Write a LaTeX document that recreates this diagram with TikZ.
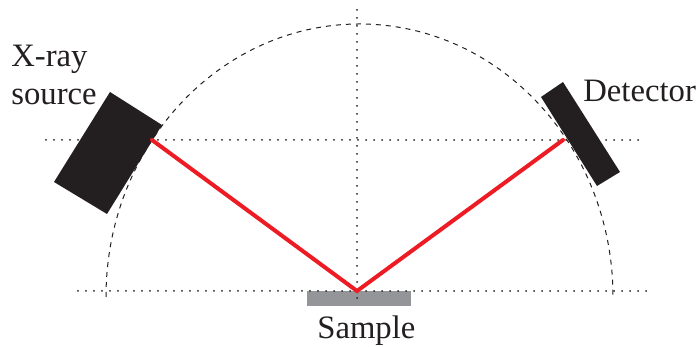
\documentclass[tikz,border=0pt]{standalone}
\usepackage{fontspec}
\setmainfont{Liberation Serif}
\definecolor{inkblack}{HTML}{231F20}
\definecolor{beamred}{HTML}{ED1C24}
\definecolor{stagegray}{HTML}{939598}

\begin{document}
\begin{tikzpicture}[
    guide/.style={line width=0.4mm, inkblack, line cap=round, dash pattern=on 0pt off 0.16cm},
    circ/.style={line width=0.2mm, inkblack, dash pattern=on 0.1cm off 0.1cm},
    beam/.style={line width=0.08cm, beamred, line cap=round, line join=miter},
    lbl/.style={anchor=base west, inner sep=0pt, text=inkblack, font=\fontsize{18.6}{22}\selectfont}]
  \useasboundingbox (0,0) rectangle (13.94,6.94);
  %--- Coordinates
  \coordinate (O)  at (7.14,1.12);
  \coordinate (E)  at (3.04,4.14);  % beam leaves source
  \coordinate (D)  at (11.26,4.14); % beam reaches detector
  %--- Sample
  \fill[stagegray] (6.14,1.12) rectangle (8.22,0.82);
  %--- Guide lines
  \draw[guide] (0.92,4.14) -- (12.78,4.14);
  \draw[guide] (1.56,1.12) -- (12.94,1.12);
  \draw[guide] (7.14,6.74) -- (7.14,0.86);
  %--- Goniometer circle
  \draw[circ] (2.12,1.00) arc[start angle=180, end angle=0, x radius=5.07, y radius=5.46];
  %--- Source and detector
  \fill[inkblack] (2.20,5.10) -- (3.24,4.44) -- (2.14,2.66) -- (1.08,3.30) -- cycle;
  \fill[inkblack] (11.26,5.30) -- (12.40,3.50) -- (11.94,3.22) -- (10.82,5.00) -- cycle;
  %--- Beam
  \draw[beam] (E) -- (O) -- (D);
  %--- Labels
  \node[lbl] (xray)   at (0.22,5.60) {X-ray};
  \node[lbl] (source) at (0.22,4.85) {source};
  \node[lbl] (det)    at (11.66,4.90) {Detector};
  \node[lbl] (sample) at (6.34,0.16) {Sample};
\end{tikzpicture}
\end{document}
